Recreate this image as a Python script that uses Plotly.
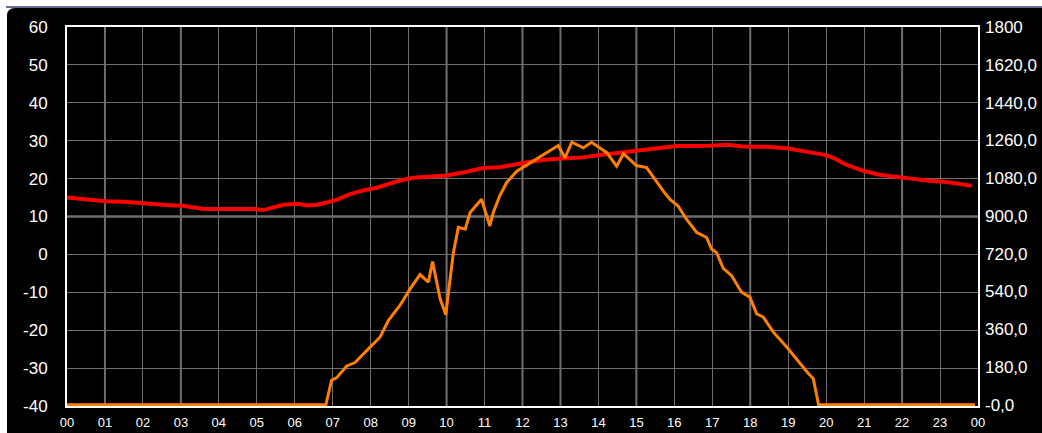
import plotly.graph_objects as go

# ---- data ----
hour_labels = ["00", "01", "02", "03", "04", "05", "06", "07", "08", "09", "10", "11",
               "12", "13", "14", "15", "16", "17", "18", "19", "20", "21", "22", "23", "00"]

left_ticks = [60, 50, 40, 30, 20, 10, 0, -10, -20, -30, -40]
left_labels = ["60", "50", "40", "30", "20", "10", "0", "-10", "-20", "-30", "-40"]

right_ticks = [1800, 1620, 1440, 1260, 1080, 900, 720, 540, 360, 180, 0]
right_labels = ["1800", "1620,0", "1440,0", "1260,0", "1080,0", "900,0", "720,0",
                "540,0", "360,0", "180,0", "-0,0"]

# temperature (left axis)
temp_time = [0, 0.35, 0.7, 1.0, 1.5, 1.83, 2.19, 2.45, 2.8, 3.02, 3.33, 3.59, 4.2, 4.9,
             5.17, 5.43, 5.7, 5.96, 6.14, 6.31, 6.58, 6.84, 7.1, 7.46, 7.81, 8.16, 8.42,
             8.77, 9.12, 9.65, 10.0, 10.53, 10.97, 11.4, 11.85, 12.28, 12.72, 13.16, 13.6,
             14.04, 14.48, 14.92, 15.53, 16.06, 16.94, 17.38, 17.82, 18.43, 18.96, 19.57,
             20.0, 20.25, 20.5, 20.8, 21.0, 21.4, 21.86, 22.3, 22.73, 23.17, 23.61, 23.83]
temp_vals = [15.0, 14.6, 14.4, 14.0, 13.9, 13.6, 13.5, 13.1, 12.9, 12.9, 12.4, 12.0, 12.0,
             12.0, 11.7, 12.3, 13.1, 13.3, 13.3, 12.9, 13.1, 13.7, 14.4, 15.9, 16.9, 17.6,
             18.4, 19.5, 20.2, 20.7, 20.8, 21.8, 22.8, 23.0, 23.8, 24.6, 25.1, 25.4, 25.6,
             26.2, 26.7, 27.1, 27.8, 28.6, 28.7, 28.9, 28.5, 28.4, 28.0, 27.0, 26.2, 25.2,
             23.8, 22.7, 22.0, 21.0, 20.4, 19.7, 19.4, 19.1, 18.5, 18.1]

# solar radiation (right axis)
rad_time = [0, 6.82, 6.97, 7.1, 7.37, 7.59, 7.9, 8.25, 8.47, 8.77, 9.04, 9.3, 9.52, 9.63,
            9.83, 9.98, 10.05, 10.18, 10.31, 10.49, 10.62, 10.92, 11.14, 11.23, 11.4, 11.58,
            11.85, 12.2, 12.64, 12.94, 13.12, 13.3, 13.6, 13.82, 14.22, 14.48, 14.66, 15.0,
            15.27, 15.55, 15.71, 15.88, 16.1, 16.32, 16.59, 16.85, 16.98, 17.11, 17.29,
            17.51, 17.77, 17.99, 18.17, 18.34, 18.61, 18.96, 19.31, 19.53, 19.66, 19.8, 23.92]
rad_vals = [0, 0, 117, 128, 185, 201, 259, 323, 402, 473, 552, 620, 584, 682, 505, 429, 536,
            726, 845, 837, 916, 979, 852, 916, 995, 1058, 1113, 1153, 1201, 1235, 1177, 1251,
            1224, 1251, 1201, 1137, 1196, 1140, 1130, 1055, 1018, 979, 947, 884, 821, 797,
            742, 726, 650, 615, 536, 513, 433, 418, 346, 275, 196, 149, 125, 0, 0]

thick_vgrid = [1, 3, 10, 12, 13, 15, 18, 22]
thick_hgrid = [10]

# ---- geometry ----
W, H = 1042, 433
ML, MR, MT, MB = 67, 64, 27, 27
PW, PH = W - ML - MR, H - MT - MB


def px_x(px):
    return (px - ML) / PW


def px_y(py):
    return (H - MB - py) / PH


GRID = "#6e6e6e"
FONT = "Liberation Sans"

fig = go.Figure()
fig.add_trace(go.Scatter(x=temp_time, y=temp_vals, mode="lines",
                         line=dict(color="#ff0000", width=4), yaxis="y",
                         showlegend=False))
fig.add_trace(go.Scatter(x=rad_time, y=rad_vals, mode="lines",
                         line=dict(color="#ff8000", width=3), yaxis="y2",
                         showlegend=False))

shapes = []
# black panel with rounded top-left corner
x0, x1 = px_x(7), px_x(W + 20)
yt, yb = px_y(8), px_y(H + 20)
rx, ry = 8 / PW, 8 / PH
shapes.append(dict(type="path", xref="paper", yref="paper", layer="below",
                   path=f"M {x0},{yb} L {x0},{yt - ry} Q {x0},{yt} {x0 + rx},{yt} "
                        f"L {x1},{yt} L {x1},{yb} Z",
                   fillcolor="black", line=dict(width=0)))
# blue-grey top rule
shapes.append(dict(type="line", xref="paper", yref="paper", layer="below",
                   x0=px_x(6), x1=px_x(W + 20), y0=px_y(7), y1=px_y(7),
                   line=dict(color="#646c96", width=2)))
for v in thick_vgrid:
    shapes.append(dict(type="line", xref="x", yref="paper", layer="below",
                       x0=v, x1=v, y0=0, y1=1, line=dict(color=GRID, width=2)))
for v in thick_hgrid:
    shapes.append(dict(type="line", xref="paper", yref="y", layer="below",
                       x0=0, x1=1, y0=v, y1=v, line=dict(color=GRID, width=2.5)))

fig.update_layout(
    width=W, height=H,
    autosize=False,
    margin=dict(l=ML, r=MR, t=MT, b=MB, pad=0, autoexpand=False),
    paper_bgcolor="white",
    plot_bgcolor="black",
    shapes=shapes,
    xaxis=dict(range=[0, 24], tickmode="array", tickvals=list(range(25)),
               ticktext=hour_labels, showgrid=True, gridcolor=GRID, gridwidth=1,
               zeroline=False, showline=True, mirror=True, linecolor="white",
               linewidth=2, ticks="", ticklabelstandoff=3, automargin=False,
               tickfont=dict(family=FONT, size=13, color="white"), fixedrange=True),
    yaxis=dict(range=[-40, 60], tickmode="array", tickvals=left_ticks,
               ticktext=left_labels, showgrid=True, gridcolor=GRID, gridwidth=1,
               zeroline=False, showline=True, mirror=True, linecolor="white",
               linewidth=2, ticks="", ticklabelstandoff=14, automargin=False,
               tickfont=dict(family=FONT, size=17, color="white"), fixedrange=True),
    yaxis2=dict(range=[-6, 1800], overlaying="y", side="right", tickmode="array",
                tickvals=right_ticks, ticktext=right_labels, showgrid=False,
                zeroline=False, showline=False, ticks="", ticklabelstandoff=6,
                automargin=False, fixedrange=True,
                tickfont=dict(family=FONT, size=17, color="white")),
)

fig.write_html("out.html", config={"displayModeBar": False},
               post_script="document.body.style.margin='0';")
